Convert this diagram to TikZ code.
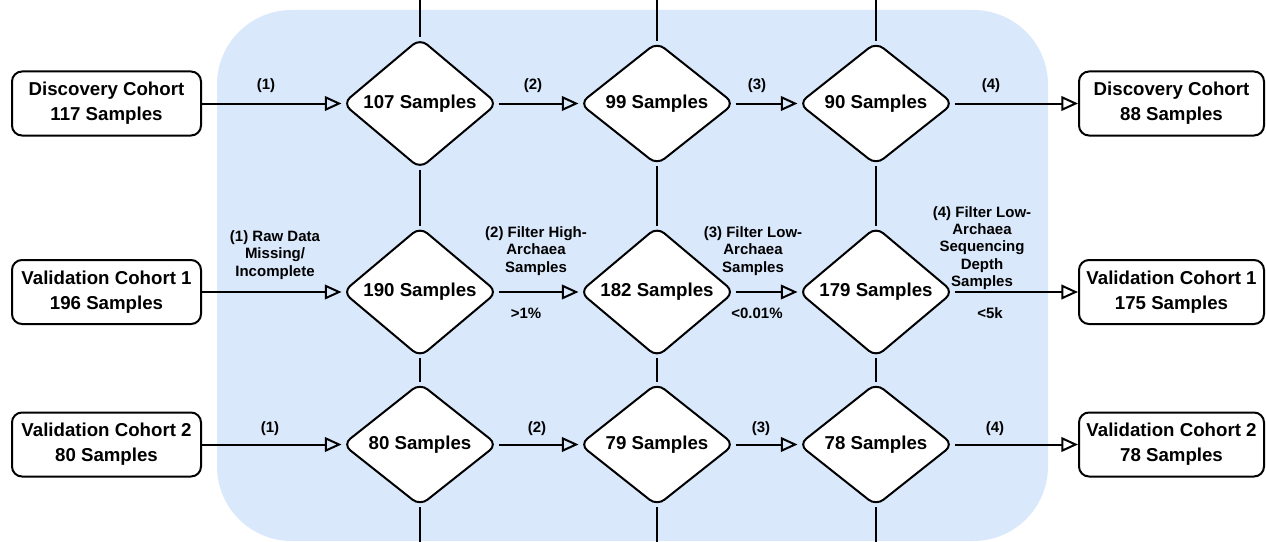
\documentclass[tikz,border=0pt]{standalone}
\usepackage{fontspec}
\setmainfont{Liberation Sans}
\usetikzlibrary{shapes.geometric,arrows.meta}
\definecolor{bgblue}{HTML}{DAE8FC}
\begin{document}
\begin{tikzpicture}[x=0.75pt,y=-0.75pt,
  conn/.style={line width=1.5pt},
  arr/.style={conn,-{Triangle[open,length=12.5pt,width=11pt]}},
  cohortL/.style={draw,line width=1.5pt,rounded corners=7.5pt,fill=white,minimum width=141.75pt,minimum height=48pt,align=center,inner sep=0pt,font=\bfseries\fontsize{14}{18.5}\selectfont},
  cohortR/.style={cohortL,minimum width=138.75pt},
  dia/.style={diamond,draw,line width=1.5pt,rounded corners=7pt,fill=white,minimum width=116.25pt,minimum height=92.25pt,inner sep=0pt,font=\bfseries\fontsize{14}{18}\selectfont},
  lbl/.style={align=center,inner sep=0pt,font=\bfseries\fontsize{11.25}{13}\selectfont}
]
\useasboundingbox (0,0) rectangle (1266,542);
\fill[bgblue,rounded corners=56pt] (217,10) rectangle (1048,541);

% cohort boxes
\node[cohortL] (l1) at (106.5,103.5) {Discovery Cohort\\117 Samples};
\node[cohortL] (l2) at (106.5,292) {Validation Cohort 1\\196 Samples};
\node[cohortL] (l3) at (106.5,444.5) {Validation Cohort 2\\80 Samples};
\node[cohortR] (r1) at (1171.5,103.5) {Discovery Cohort\\88 Samples};
\node[cohortR] (r2) at (1171.5,292) {Validation Cohort 1\\175 Samples};
\node[cohortR] (r3) at (1171.5,444.5) {Validation Cohort 2\\78 Samples};

% diamonds
\node[dia] (d11) at (420,103.5) {107 Samples};
\node[dia] (d12) at (657,103.5) {99 Samples};
\node[dia] (d13) at (876,103.5) {90 Samples};
\node[dia] (d21) at (420,292) {190 Samples};
\node[dia] (d22) at (657,292) {182 Samples};
\node[dia] (d23) at (876,292) {179 Samples};
\node[dia] (d31) at (420,444.5) {80 Samples};
\node[dia] (d32) at (657,444.5) {79 Samples};
\node[dia] (d33) at (876,444.5) {78 Samples};

% free ends of vertical lines
\coordinate (t1) at (420,0);
\coordinate (t2) at (657,0);
\coordinate (t3) at (876,0);
\coordinate (b1) at (420,542);
\coordinate (b2) at (657,542);
\coordinate (b3) at (876,542);

% vertical connectors
\draw[conn] (t1) -- (d11.north);
\draw[conn] (t2) -- (d12.north);
\draw[conn] (t3) -- (d13.north);
\draw[conn] (d11.south) -- (d21.north);
\draw[conn] (d12.south) -- (d22.north);
\draw[conn] (d13.south) -- (d23.north);
\draw[conn] (d21.south) -- (d31.north);
\draw[conn] (d22.south) -- (d32.north);
\draw[conn] (d23.south) -- (d33.north);
\draw[conn] (d31.south) -- (b1);
\draw[conn] (d32.south) -- (b2);
\draw[conn] (d33.south) -- (b3);

% horizontal arrows
\draw[arr] (l1.east) -- (d11.west);
\draw[arr] (d11.east) -- (d12.west);
\draw[arr] (d12.east) -- (d13.west);
\draw[arr] (d13.east) -- (r1.west);
\draw[arr] (l2.east) -- (d21.west);
\draw[arr] (d21.east) -- (d22.west);
\draw[arr] (d22.east) -- (d23.west);
\draw[arr] (d23.east) -- (r2.west);
\draw[arr] (l3.east) -- (d31.west);
\draw[arr] (d31.east) -- (d32.west);
\draw[arr] (d32.east) -- (d33.west);
\draw[arr] (d33.east) -- (r3.west);

% labels row 1
\node[lbl] (a11) at (266,86) {(1)};
\node[lbl] (a12) at (533,86) {(2)};
\node[lbl] (a13) at (757,86) {(3)};
\node[lbl] (a14) at (991,86) {(4)};
% labels row 2
\node[lbl] (a21) at (275,255) {(1) Raw Data\\Missing/\\Incomplete};
\node[lbl] (a22) at (536,251) {(2) Filter High-\\Archaea\\Samples};
\node[lbl] (a23) at (753,251) {(3) Filter Low-\\Archaea\\Samples};
\node[lbl] (a24) at (982,248) {(4) Filter Low-\\Archaea\\Sequencing\\Depth\\Samples};
\node[lbl] (c22) at (526,313) {>1\%};
\node[lbl] (c23) at (757,313) {<0.01\%};
\node[lbl] (c24) at (990,313) {<5k};
% labels row 3
\node[lbl] (a31) at (270,429) {(1)};
\node[lbl] (a32) at (537,429) {(2)};
\node[lbl] (a33) at (761,429) {(3)};
\node[lbl] (a34) at (995,429) {(4)};
\end{tikzpicture}
\end{document}
